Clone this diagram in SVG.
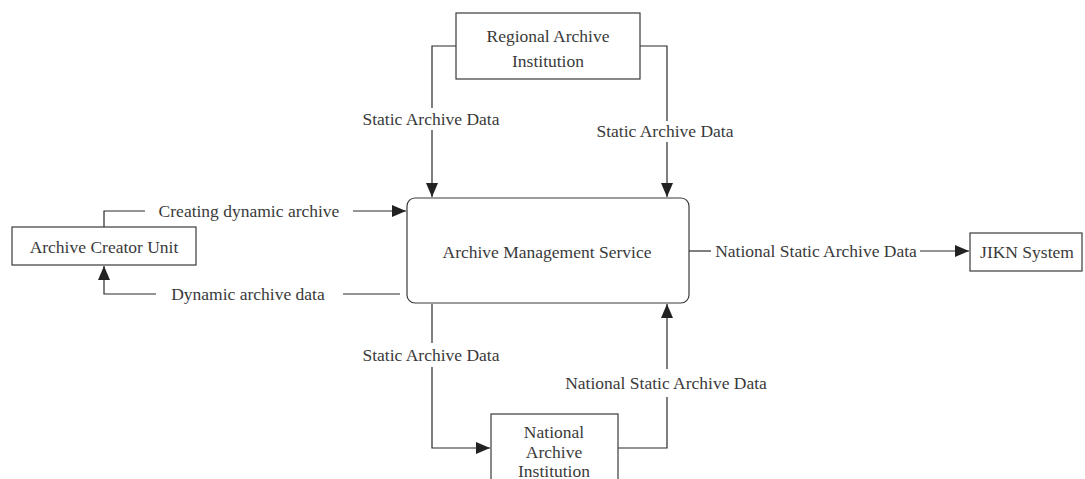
<svg xmlns="http://www.w3.org/2000/svg" width="1085" height="479" viewBox="0 0 1085 479">
  <style>
    .box { fill: #ffffff; stroke: #3a3a3a; stroke-width: 1.2; }
    .line { fill: none; stroke: #2a2a2a; stroke-width: 1.2; }
    .txt { font-family: "Liberation Serif", "Times New Roman", serif; font-size: 17.5px; fill: #3a3a3a; text-anchor: middle; dominant-baseline: central; }
  </style>
  <defs>
    <marker id="arrow" viewBox="0 0 14 12" refX="14" refY="6" markerWidth="14" markerHeight="12" markerUnits="userSpaceOnUse" orient="auto">
      <path d="M0,0 L14,6 L0,12 Z" fill="#222222"/>
    </marker>
  </defs>
  <rect width="1085" height="479" fill="#ffffff"/>

  <g id="connectors">
    <!-- Regional -> Management (left) -->
    <path class="line" d="M456,46 H432 V108"/>
    <path class="line" d="M432,130 V197" marker-end="url(#arrow)"/>
    <text class="txt" x="431" y="119">Static Archive Data</text>
    <!-- Regional -> Management (right) -->
    <path class="line" d="M640,46 H667 V121"/>
    <path class="line" d="M667,142 V197" marker-end="url(#arrow)"/>
    <text class="txt" x="665" y="131">Static Archive Data</text>
    <!-- Creator -> Management -->
    <path class="line" d="M104,227 V211 H145"/>
    <path class="line" d="M353,211 H406" marker-end="url(#arrow)"/>
    <text class="txt" x="249" y="211">Creating dynamic archive</text>
    <!-- Management -> Creator -->
    <path class="line" d="M400,294 H343"/>
    <path class="line" d="M156,294 H104 V266" marker-end="url(#arrow)"/>
    <text class="txt" x="248" y="294">Dynamic archive data</text>
    <!-- Management -> JIKN -->
    <path class="line" d="M689,251 H711"/>
    <path class="line" d="M920,251 H969" marker-end="url(#arrow)"/>
    <text class="txt" x="816" y="251">National Static Archive Data</text>
    <!-- Management -> National -->
    <path class="line" d="M432,304 V343"/>
    <path class="line" d="M432,367 V448 H490" marker-end="url(#arrow)"/>
    <text class="txt" x="431" y="355">Static Archive Data</text>
    <!-- National -> Management -->
    <path class="line" d="M618,448 H667 V397"/>
    <path class="line" d="M667,369 V304" marker-end="url(#arrow)"/>
    <text class="txt" x="666" y="383">National Static Archive Data</text>
  </g>

  <g id="regional">
    <rect class="box" x="456" y="13" width="184" height="66"/>
    <text class="txt" x="548" y="36">Regional Archive</text>
    <text class="txt" x="548" y="61">Institution</text>
  </g>

  <g id="management">
    <rect class="box" x="407" y="198" width="282" height="105" rx="8" ry="8"/>
    <text class="txt" x="547" y="252">Archive Management Service</text>
  </g>

  <g id="creator">
    <rect class="box" x="12" y="227" width="184" height="38"/>
    <text class="txt" x="104" y="247">Archive Creator Unit</text>
  </g>

  <g id="jikn">
    <rect class="box" x="970" y="233" width="112" height="38"/>
    <text class="txt" x="1027" y="252">JIKN System</text>
  </g>

  <g id="national">
    <rect class="box" x="491" y="414" width="127" height="80"/>
    <text class="txt" x="554" y="432">National</text>
    <text class="txt" x="554" y="452">Archive</text>
    <text class="txt" x="554" y="471">Institution</text>
  </g>
</svg>
